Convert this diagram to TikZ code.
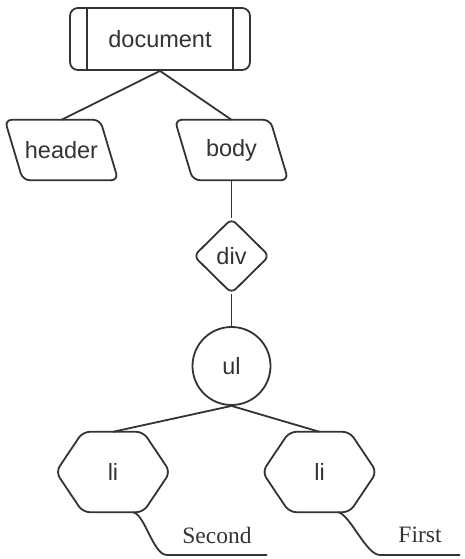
\documentclass[tikz,border=0pt]{standalone}
\usepackage{fontspec}
\setmainfont{Liberation Sans}
\newfontfamily\labelserif{Liberation Serif}
\usetikzlibrary{shapes.geometric,calc}
\definecolor{ink}{HTML}{333333}
\begin{document}
\begin{tikzpicture}[x=1pt,y=-1pt,
  every node/.style={text=ink, font=\fontsize{23.5}{28}\selectfont, inner sep=0pt},
  outline/.style={draw=ink, line width=1.8pt, rounded corners=7pt},
  edge/.style={draw=ink, line width=1.8pt},
  box/.style={minimum width=#1, minimum height=60pt},
  leaf/.style={font=\labelserif\fontsize{23.5}{28}\selectfont}]
\useasboundingbox (0,0) rectangle (464,559);
% document
\node[draw=ink, line width=1.8pt, rounded corners=8pt, minimum width=180pt, minimum height=62pt] (doc) at (160,39) {document};
\draw[edge] ([xshift=18pt]doc.north west) -- ([xshift=18pt]doc.south west);
\draw[edge] ([xshift=-18pt]doc.north east) -- ([xshift=-18pt]doc.south east);
% header / body
\node[box=113pt] (header) at (61.5,150) {header};
\node[box=113pt] (body) at (231.5,150) {body};
\draw[outline] (header.north west) -- ([xshift=-18pt]header.north east) -- (header.south east) -- ([xshift=18pt]header.south west) -- cycle;
\draw[outline] (body.north west) -- ([xshift=-18pt]body.north east) -- (body.south east) -- ([xshift=18pt]body.south west) -- cycle;
% div
\node[diamond, draw=ink, line width=1.8pt, rounded corners=6pt, minimum width=76pt, minimum height=75pt] (div) at (231.5,256) {div};
% ul
\node[circle, draw=ink, line width=1.8pt, minimum size=78pt] (ul) at (231.5,366) {ul};
% li
\node[minimum width=114pt, minimum height=80pt] (li1) at (113,472) {li};
\node[minimum width=114pt, minimum height=80pt] (li2) at (319.5,472) {li};
\foreach \n in {li1,li2}{
  \draw[outline] (\n.west) -- ([xshift=27pt]\n.north west) -- ([xshift=-27pt]\n.north east) -- (\n.east) -- ([xshift=-27pt]\n.south east) -- ([xshift=27pt]\n.south west) -- cycle;
}
% leaf labels
\node[leaf] (t1) at (217,535) {Second};
\node[leaf] (t2) at (420,535) {First};
\coordinate (u1s) at (167,555); \coordinate (u1e) at (267,555);
\coordinate (u2s) at (380,555); \coordinate (u2e) at (460,555);
% connectors
\draw[edge] (doc.south) -- (header.north);
\draw[edge] (doc.south) -- (body.north);
\draw[edge] (body.south) -- (div.north);
\draw[edge] (div.south) -- (ul.north);
\draw[edge] (ul.south) -- (li1.north);
\draw[edge] (ul.south) -- (li2.north);
\draw[edge] ([xshift=20pt]li1.south) .. controls +(12,2) and +(-14,0) .. (u1s) -- (u1e);
\draw[edge] ([xshift=18.5pt]li2.south) .. controls +(12,2) and +(-14,0) .. (u2s) -- (u2e);
\end{tikzpicture}
\end{document}
